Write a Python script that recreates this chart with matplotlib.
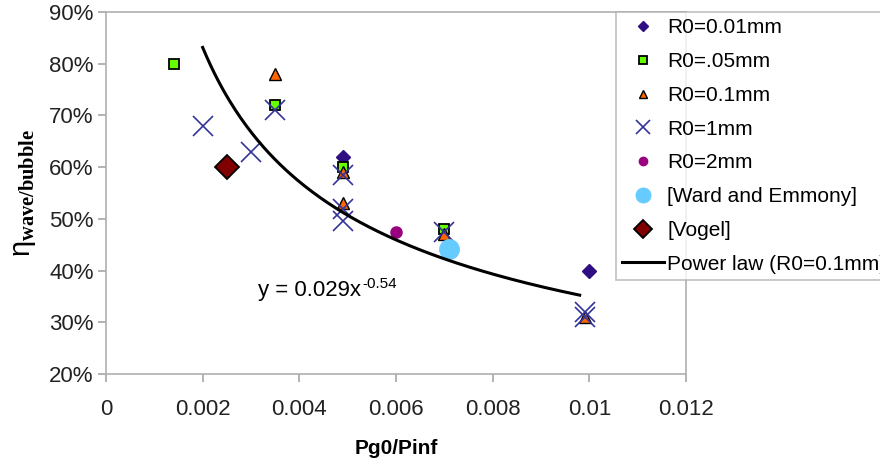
import matplotlib
matplotlib.use("Agg")
import matplotlib.pyplot as plt
import numpy as np
from matplotlib.ticker import PercentFormatter, FuncFormatter

plt.rcParams['font.family'] = ['Liberation Sans', 'DejaVu Sans']
plt.rcParams['mathtext.fontset'] = 'custom'
plt.rcParams['mathtext.rm'] = 'Liberation Sans'
plt.rcParams['mathtext.it'] = 'Liberation Sans:italic'
plt.rcParams['mathtext.bf'] = 'Liberation Serif:bold'

# data (x = Pg0/Pinf, y = efficiency)
r001_x = [0.0049, 0.0100]
r001_y = [0.62, 0.40]

r005_x = [0.0014, 0.0035, 0.0049, 0.0070]
r005_y = [0.80, 0.72, 0.60, 0.48]

r01_x = [0.0035, 0.0049, 0.0049, 0.0070, 0.0099]
r01_y = [0.78, 0.59, 0.53, 0.47, 0.31]

r1_x = [0.0020, 0.0030, 0.0035, 0.0049, 0.0049, 0.0049, 0.0070, 0.0099, 0.0099]
r1_y = [0.68, 0.63, 0.71, 0.585, 0.52, 0.495, 0.475, 0.32, 0.31]

r2_x = [0.0060]
r2_y = [0.474]

ward_x = [0.0071]
ward_y = [0.442]

vogel_x = [0.0025]
vogel_y = [0.60]

# power law trendline y = 0.029 x^-0.54
fit_a = 0.029
fit_b = -0.54
fit_xmin, fit_xmax = 0.0020, 0.0098

fig = plt.figure(figsize=(8.8, 4.66), dpi=100)
ax = fig.add_axes([106/880, 1 - 374/466, 580/880, 362/466])

ax.plot(r001_x, r001_y, 'D', ls='none', ms=7, color='#2E0E80', label='R0=0.01mm')
ax.plot(r005_x, r005_y, 's', ls='none', ms=7, mfc='#66FF00', mec='black', mew=1.3, label='R0=.05mm')
ax.plot(r01_x, r01_y, '^', ls='none', ms=8, mfc='#FF6600', mec='black', mew=1.0, label='R0=0.1mm')
ax.plot(r1_x, r1_y, 'x', ls='none', ms=14, mew=1.2, color='#333399', label='R0=1mm')
ax.plot(r2_x, r2_y, 'o', ls='none', ms=8, color='#990080', label='R0=2mm')
ax.plot(ward_x, ward_y, 'o', ls='none', ms=14, color='#66CCFF', label='[Ward and Emmony]')
ax.plot(vogel_x, vogel_y, 'D', ls='none', ms=12, mfc='#800000', mec='black', mew=1.3, label='[Vogel]')

xs = np.linspace(fit_xmin, fit_xmax, 200)
ax.plot(xs, fit_a * xs ** fit_b, color='black', lw=2.2, label='Power law (R0=0.1mm)')

eq = ax.text(0.00315, 0.351, 'y = 0.029x', fontsize=16, va='baseline')
ax.annotate('%g' % fit_b, xy=(1, 1), xycoords=eq, xytext=(0.5, 2), textcoords='offset points',
            fontsize=11, va='top', ha='left')

ax.set_xlim(0, 0.012)
ax.set_ylim(0.2, 0.9)
ax.set_xticks(np.arange(0, 0.0121, 0.002))
ax.set_yticks(np.arange(0.2, 0.91, 0.1))
ax.xaxis.set_major_formatter(FuncFormatter(lambda v, p: '%g' % round(v, 4)))
ax.yaxis.set_major_formatter(PercentFormatter(1.0, decimals=0))
ax.tick_params(labelsize=16, length=6, width=1.2, direction='out', color='#A6A6A6', labelcolor='#222222')
ax.tick_params(axis='x', pad=12)
ax.tick_params(axis='y', pad=3)
for s in ax.spines.values():
    s.set_color('#B0B0B0')
    s.set_linewidth(1.2)

ax.set_xlabel('Pg0/Pinf', fontsize=15, fontweight='bold', labelpad=14)
ax.set_ylabel(r'$\mathrm{\eta}_{\mathbf{wave/bubble}}$', fontsize=21, labelpad=8)

leg = ax.legend(loc='upper left', bbox_to_anchor=(616/880, 1 - 12/466), bbox_transform=fig.transFigure,
                borderaxespad=0, fontsize=15, frameon=True, fancybox=False, labelspacing=0.71,
                handlelength=2.0, handletextpad=0.15, borderpad=0.3, numpoints=1, markerscale=0.75)
leg.get_frame().set_edgecolor('#B0B0B0')
leg.get_frame().set_linewidth(1.2)

fig.savefig('out.png', dpi=100)
